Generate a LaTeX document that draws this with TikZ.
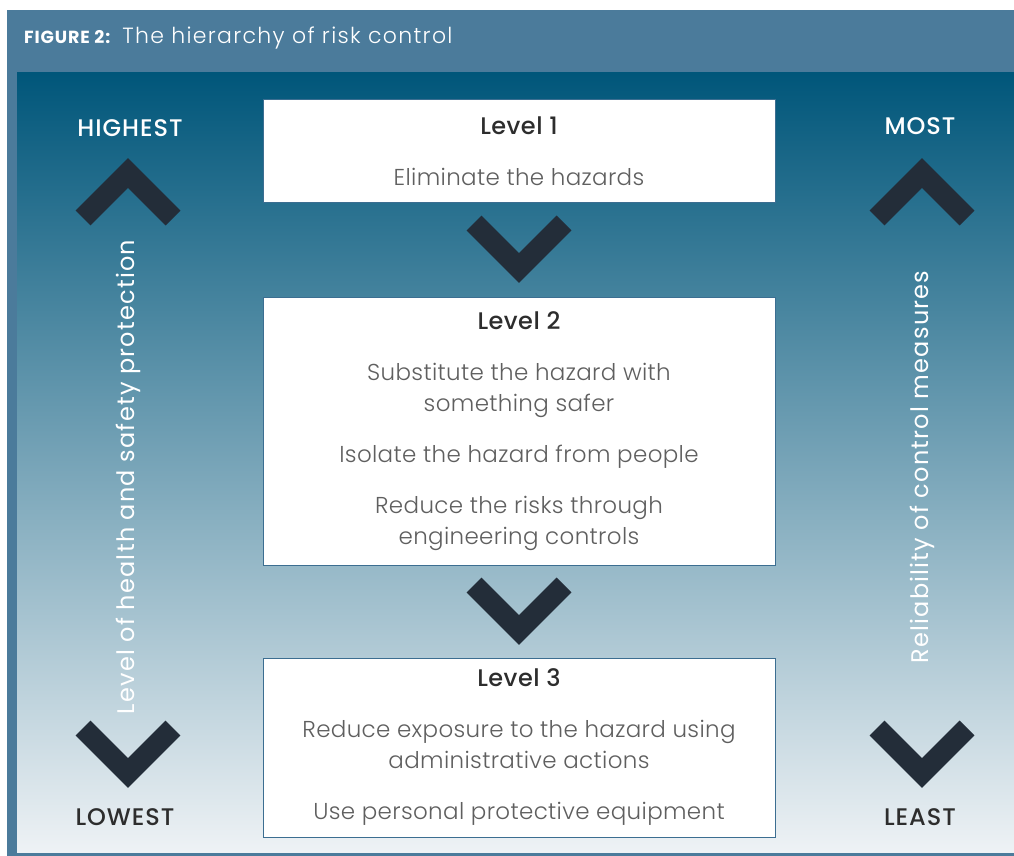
\documentclass[tikz,border=0pt]{standalone}
\usepackage{fontspec}
\setmainfont{Poppins}
\newfontfamily\lightfont{Poppins Light}[LetterSpace=1.5]
\newfontfamily\medfont{Poppins Medium}[LetterSpace=2]
\newfontfamily\tagfont{Poppins Medium}[LetterSpace=4]
\newfontfamily\sidefont{Poppins}[LetterSpace=5]
\newfontfamily\titlefont{Poppins Light}[LetterSpace=6]
\newfontfamily\figfont{Poppins Bold}[LetterSpace=5]
\usetikzlibrary{calc,positioning}

\definecolor{framecol}{RGB}{75,123,155}
\definecolor{paneltop}{RGB}{0,86,122}
\definecolor{panelmid}{RGB}{88,138,168}
\definecolor{panelbot}{RGB}{238,242,245}
\definecolor{chevcol}{RGB}{35,45,57}
\definecolor{headcol}{RGB}{45,45,45}
\definecolor{bodycol}{RGB}{95,95,95}
\definecolor{edgecol}{RGB}{60,110,145}

\tikzset{
    pics/chevdown/.style={code={\draw[chev] (-45,-26.5) -- (0,18.5) -- (45,-26.5);}},
    pics/chevup/.style={code={\draw[chev] (-45,26.5) -- (0,-18.5) -- (45,26.5);}},
}

\begin{document}
\begin{tikzpicture}[x=1pt,y=-1pt,
    chev/.style={draw=chevcol, line width=21pt, line join=miter},
    levelbox/.style={draw=edgecol, line width=1pt, fill=white, minimum width=512pt,
        align=center, text=bodycol, font=\lightfont\fontsize{23}{31}\selectfont},
    tag/.style={font=\tagfont\fontsize{24}{26}\selectfont, inner sep=0pt},
    sidetext/.style={font=\sidefont\fontsize{24}{26}\selectfont, text=white, rotate=90, inner sep=0pt},
    ]
    \useasboundingbox (0,0) rectangle (1014,856);
    \fill[framecol] (7,10) rectangle (1014,856);
    \shade[top color=paneltop, middle color=panelmid, bottom color=panelbot] (17,73) rectangle (1014,852);
    \node[anchor=west, inner sep=0pt, text=white] (title) at (24,38)
        {{\figfont\fontsize{17.5}{20}\selectfont FIGURE 2:}\hspace{12pt}%
         {\titlefont\fontsize{22}{24}\selectfont The hierarchy of risk control}};

    % the three levels
    \node[levelbox, minimum height=102pt] (lvl1) at (519,151)
        {{\medfont\fontsize{24}{31}\selectfont\color{headcol}Level 1}\\[20pt]
         Eliminate the hazards};
    \node[levelbox, minimum height=268pt] (lvl2) at (519,431)
        {{\medfont\fontsize{24}{31}\selectfont\color{headcol}Level 2}\\[20pt]
         Substitute the hazard with\\something safer\\[20pt]
         Isolate the hazard from people\\[20pt]
         Reduce the risks through\\engineering controls};
    \node[levelbox, minimum height=179pt] (lvl3) at (519,747.5)
        {{\medfont\fontsize{24}{31}\selectfont\color{headcol}Level 3}\\[20pt]
         Reduce exposure to the hazard using\\administrative actions\\[20pt]
         Use personal protective equipment};
    \pic at ($(lvl1.south)!0.5!(lvl2.north)$) {chevdown};
    \pic at ($(lvl2.south)!0.5!(lvl3.north)$) {chevdown};

    % left scale
    \node[tag, text=white] (highest) at (130,128) {HIGHEST};
    \pic at (128,191.5) {chevup};
    \node[sidetext] (protect) at (128,477) {Level of health and safety protection};
    \pic at (128,754.5) {chevdown};
    \node[tag, text=headcol] (lowest) at (125,817) {LOWEST};

    % right scale
    \node[tag, text=white] (most) at (920,126) {MOST};
    \pic at (922,191.5) {chevup};
    \node[sidetext] (reliab) at (922,467) {Reliability of control measures};
    \pic at (922,754.5) {chevdown};
    \node[tag, text=headcol] (least) at (920,817) {LEAST};
\end{tikzpicture}
\end{document}
